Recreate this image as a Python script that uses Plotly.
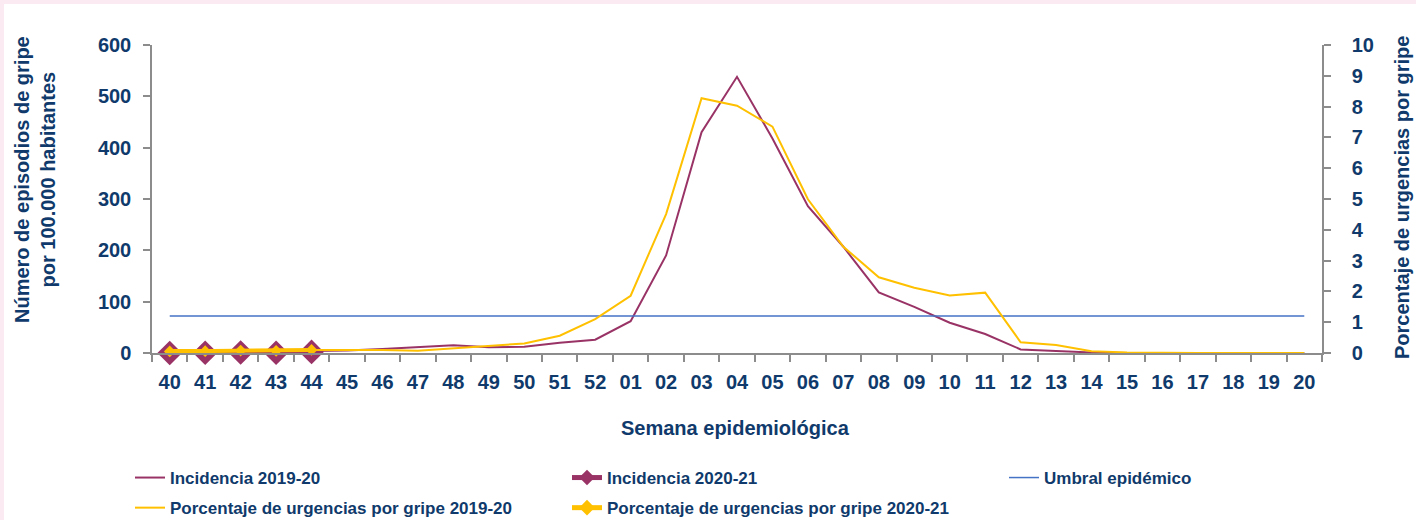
import plotly.graph_objects as go

weeks = ["40", "41", "42", "43", "44", "45", "46", "47", "48", "49", "50", "51", "52",
         "01", "02", "03", "04", "05", "06", "07", "08", "09", "10", "11", "12", "13",
         "14", "15", "16", "17", "18", "19", "20"]

incidencia_1920 = [2, 2, 3, 3, 4, 5, 8, 11, 15, 11, 12, 20, 26,
                   62, 190, 430, 538, 418, 286, 207, 118, 90, 59, 37, 7, 4,
                   1, 0, 0, 0, 0, 0, 0]
weeks_2021 = ["40", "41", "42", "43", "44"]
incidencia_2021 = [0, 0.5, 1, 0.5, 2]
umbral = [72] * len(weeks)
urgencias_1920 = [0.1, 0.1, 0.1, 0.1, 0.1, 0.1, 0.1, 0.07, 0.15, 0.22, 0.31, 0.56, 1.1,
                  1.86, 4.51, 8.27, 8.03, 7.35, 4.99, 3.45, 2.46, 2.12, 1.87, 1.96, 0.35, 0.26,
                  0.06, 0.02, 0, 0, 0, 0, 0]
urgencias_2021 = [0.05, 0.06, 0.08, 0.07, 0.1]

left_ticks = [0, 100, 200, 300, 400, 500, 600]
right_ticks = list(range(0, 11))

PURPLE = "#993366"
YELLOW = "#FFC000"
BLUE = "#4472C4"
NAVY = "#0F3A6B"
GRAY = "#8C8C8C"
FONT = "Liberation Sans Narrow, Arial Narrow, Liberation Sans, Arial, sans-serif"

W, H = 1416, 520
L, R, T, B = 152, 1322, 45, 353

fig = go.Figure()
fig.add_trace(go.Scatter(x=weeks, y=incidencia_1920, name="Incidencia 2019-20",
                         mode="lines", line=dict(color=PURPLE, width=2),
                         legend="legend", legendgroup="a"))
fig.add_trace(go.Scatter(x=weeks_2021, y=incidencia_2021, name="Incidencia 2020-21",
                         mode="lines+markers", line=dict(color=PURPLE, width=3),
                         marker=dict(symbol="diamond", size=19, color=PURPLE),
                         cliponaxis=False, legend="legend2", legendgroup="b"))
fig.add_trace(go.Scatter(x=weeks, y=umbral, name="Umbral epidémico",
                         mode="lines", line=dict(color=BLUE, width=1.5),
                         legend="legend3", legendgroup="c"))
fig.add_trace(go.Scatter(x=weeks, y=urgencias_1920, name="Porcentaje de urgencias por gripe 2019-20",
                         mode="lines", line=dict(color=YELLOW, width=2), yaxis="y2",
                         legend="legend", legendgroup="d"))
fig.add_trace(go.Scatter(x=weeks_2021, y=urgencias_2021, name="Porcentaje de urgencias por gripe 2020-21",
                         mode="lines+markers", line=dict(color=YELLOW, width=4),
                         marker=dict(symbol="diamond", size=9, color=YELLOW), yaxis="y2",
                         cliponaxis=False, legend="legend2", legendgroup="e"))

axis_common = dict(showline=True, linecolor=GRAY, linewidth=1.5, ticks="outside",
                   ticklen=7, tickcolor=GRAY, tickwidth=1.5, showgrid=False, zeroline=False,
                   tickfont=dict(family=FONT, size=20, color=NAVY, weight="bold"))

legend_common = dict(orientation="v", xref="container", yref="container",
                     y=1 - 460 / H, xanchor="left", yanchor="top",
                     font=dict(family=FONT, size=17, color=NAVY, weight="bold"),
                     bgcolor="rgba(0,0,0,0)", traceorder="grouped", tracegroupgap=5)

fig.update_layout(
    width=W, height=H,
    margin=dict(l=L, r=W - R, t=T, b=H - B, autoexpand=False),
    paper_bgcolor="white", plot_bgcolor="white",
    font=dict(family=FONT, color=NAVY, weight="bold"),
    xaxis=dict(type="category", range=[-0.5, len(weeks) - 0.5], tickson="boundaries",
               ticklabelstandoff=10, **axis_common),
    yaxis=dict(range=[0, 600], tickvals=left_ticks, ticklabelstandoff=8, **axis_common),
    yaxis2=dict(range=[0, 10], tickvals=right_ticks, overlaying="y", side="right",
                ticklabelstandoff=17, **axis_common),
    showlegend=True,
    legend=dict(x=130 / W, **legend_common),
    legend2=dict(x=567 / W, itemsizing="constant", **legend_common),
    legend3=dict(x=1004 / W, **legend_common),
    annotations=[
        dict(text="Número de episodios de gripe<br>por 100.000 habitantes",
             xref="paper", yref="paper", x=(35 - L) / (R - L), y=(B - 180) / (B - T),
             xanchor="center", yanchor="middle", textangle=-90, showarrow=False,
             font=dict(family=FONT, size=20, color=NAVY, weight="bold")),
        dict(text="Porcentaje de urgencias por gripe",
             xref="paper", yref="paper", x=(1402 - L) / (R - L), y=(B - 198) / (B - T),
             xanchor="center", yanchor="middle", textangle=-90, showarrow=False,
             font=dict(family=FONT, size=20, color=NAVY, weight="bold")),
        dict(text="Semana epidemiológica",
             xref="paper", yref="paper", x=(735 - L) / (R - L), y=(B - 428) / (B - T),
             xanchor="center", yanchor="middle", showarrow=False,
             font=dict(family=FONT, size=20, color=NAVY, weight="bold")),
    ],
    shapes=[
        dict(type="rect", xref="paper", yref="paper",
             x0=(0 - L) / (R - L), x1=(W - L) / (R - L),
             y0=(B - 4) / (B - T), y1=(B - 0) / (B - T),
             fillcolor="#FBEAF1", line=dict(width=0), layer="below"),
        dict(type="rect", xref="paper", yref="paper",
             x0=(0 - L) / (R - L), x1=(4 - L) / (R - L),
             y0=(B - H) / (B - T), y1=(B - 0) / (B - T),
             fillcolor="#FBEAF1", line=dict(width=0), layer="below"),
    ],
)

fig.write_html("out.html", config={"displayModeBar": False},
               post_script="document.body.style.margin='0';document.body.style.padding='0';")
